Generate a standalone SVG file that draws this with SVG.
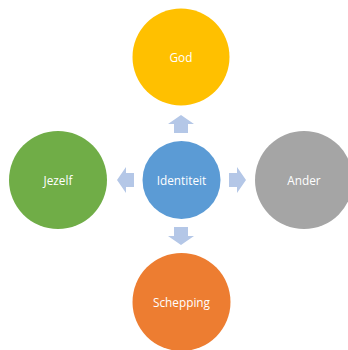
<svg xmlns="http://www.w3.org/2000/svg" width="348" height="350" viewBox="0 0 348 350">
<style>
.lbl{font-family:"Open Sans","Noto Sans","Liberation Sans",sans-serif;font-size:11.8px;fill:#ffffff;text-anchor:middle;dominant-baseline:central}
.arr{fill:#B4C7E7}
</style>
<rect width="348" height="350" fill="#ffffff"/>
<g id="connectors">
<path class="arr" d="M181,115 L194,124 L188,124 L188,133 L174,133 L174,124 L168,124 Z"/>
<path class="arr" d="M181,245 L194,236 L188,236 L188,227 L174,227 L174,236 L168,236 Z"/>
<path class="arr" d="M117,180 L126,167 L126,173 L134,173 L134,187 L126,187 L126,193 Z"/>
<path class="arr" d="M246,180 L237,167 L237,173 L229,173 L229,187 L237,187 L237,193 Z"/>
</g>
<g id="god"><circle cx="181" cy="57" r="48.5" fill="#FFC000"/><text class="lbl" x="181" y="57">God</text></g>
<g id="identiteit"><circle cx="181.5" cy="180" r="39" fill="#5B9BD5"/><text class="lbl" x="181.5" y="180">Identiteit</text></g>
<g id="jezelf"><circle cx="58" cy="180" r="49" fill="#70AD47"/><text class="lbl" x="58" y="180">Jezelf</text></g>
<g id="ander"><circle cx="304" cy="180" r="49" fill="#A5A5A5"/><text class="lbl" x="304" y="180">Ander</text></g>
<g id="schepping"><circle cx="181.5" cy="302" r="49" fill="#ED7D31"/><text class="lbl" x="181.5" y="302">Schepping</text></g>
</svg>
